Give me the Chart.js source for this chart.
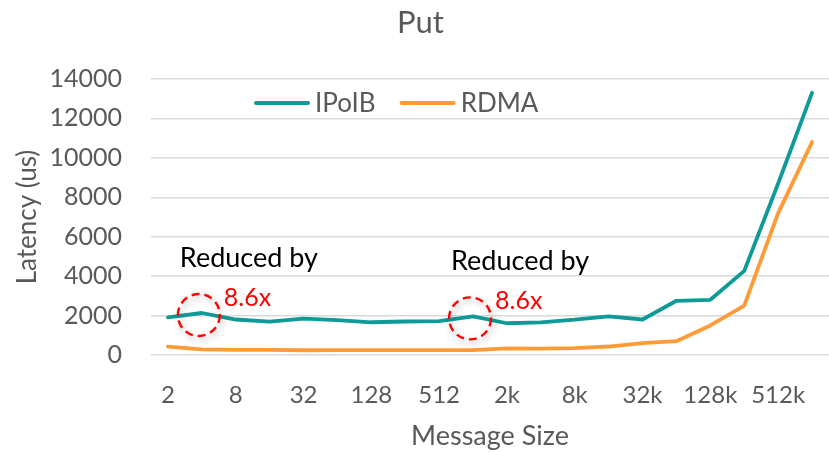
<!DOCTYPE html>
<html>
<head>
<meta charset="utf-8">
<script src="https://cdn.jsdelivr.net/npm/chart.js@4/dist/chart.umd.min.js"></script>
<style>
html,body{margin:0;padding:0;background:#fff;}
#wrap{width:829px;height:452px;position:relative;}
</style>
</head>
<body>
<div id="wrap"><canvas id="c" width="829" height="452"></canvas></div>
<script>
const categories = ['2','4','8','16','32','64','128','256','512','1k','2k','4k','8k','16k','32k','64k','128k','256k','512k','1M'];
const ipoib = [1910,2130,1800,1690,1840,1770,1660,1700,1720,1960,1610,1660,1790,1960,1800,2750,2800,4270,8700,13300];
const rdma  = [430,290,260,260,240,250,250,250,250,250,340,320,350,430,600,700,1500,2500,7200,10800];
const yTicks = [0,2000,4000,6000,8000,10000,12000,14000];
const annotations = [
  {index:1, text:'Reduced by', ratio:'8.6x'},
  {index:9, text:'Reduced by', ratio:'8.6x'}
];

const FONT = 'Lato';
const GREY = '#595959';

const overlay = {
  id:'overlay',
  afterDraw(chart){
    const ctx = chart.ctx;
    const xs = chart.scales.x, ys = chart.scales.y;
    // legend
    ctx.save();
    let lx = 256; const ly = 103;
    ctx.font = '26px ' + FONT;
    ctx.textBaseline = 'middle';
    chart.data.datasets.forEach(ds => {
      ctx.strokeStyle = ds.borderColor;
      ctx.lineWidth = 4;
      ctx.lineCap = 'round';
      ctx.beginPath(); ctx.moveTo(lx, ly); ctx.lineTo(lx + 52, ly); ctx.stroke();
      ctx.fillStyle = GREY;
      ctx.fillText(ds.label, lx + 59, ly + 1);
      lx += 59 + ctx.measureText(ds.label).width + 26;
    });
    ctx.restore();
    // annotations
    annotations.forEach(a => {
      const px = xs.getPixelForValue(a.index);
      const py = ys.getPixelForValue(chart.data.datasets[0].data[a.index]);
      ctx.save();
      ctx.font = '27px ' + FONT;
      ctx.fillStyle = '#000';
      ctx.textBaseline = 'middle';
      ctx.fillText(a.text, px - 22, py - 55);
      ctx.font = '25px ' + FONT;
      ctx.fillStyle = '#FF0000';
      ctx.fillText(a.ratio, px + 22, py - 15);
      ctx.shadowColor = 'rgba(0,0,0,0.35)';
      ctx.shadowBlur = 6;
      ctx.shadowOffsetX = 2; ctx.shadowOffsetY = 3;
      ctx.strokeStyle = '#FF0000';
      ctx.lineWidth = 2.4;
      ctx.setLineDash([8,5]);
      ctx.beginPath(); ctx.arc(px - 3, py + 2, 21, 0, Math.PI*2); ctx.stroke();
      ctx.restore();
    });
  }
};

new Chart(document.getElementById('c'), {
  type:'line',
  data:{
    labels:categories,
    datasets:[
      {label:'IPoIB', data:ipoib, borderColor:'#0E9A96', backgroundColor:'#0E9A96', borderWidth:3.8, pointRadius:0, tension:0, borderCapStyle:'round', borderJoinStyle:'round'},
      {label:'RDMA', data:rdma, borderColor:'#FF9B37', backgroundColor:'#FF9B37', borderWidth:3.8, pointRadius:0, tension:0, borderCapStyle:'round', borderJoinStyle:'round'}
    ]
  },
  options:{
    responsive:false,
    animation:false,
    layout:{padding:{left:12,right:0,top:0,bottom:0}},
    plugins:{
      legend:{display:false},
      tooltip:{enabled:false},
      title:{display:true,text:'Put',color:GREY,font:{family:FONT,size:31,weight:'normal'},padding:{top:4,bottom:37.8}}
    },
    scales:{
      x:{
        offset:true,
        grid:{display:false,drawTicks:true,tickLength:26},
        border:{display:false},
        ticks:{autoSkip:false,maxRotation:0,minRotation:0,padding:0,color:GREY,font:{family:FONT,size:24},
          callback:(v,i)=> i%2===0 ? categories[i] : ''},
        title:{display:true,text:'Message Size',color:GREY,font:{family:FONT,size:27},padding:{top:10,bottom:0}},
        afterFit(s){ s.height = 97; }
      },
      y:{
        min:0,max:14000,
        afterBuildTicks(s){ s.ticks = yTicks.map(v=>({value:v})); },
        grid:{color:'#D9D9D9',lineWidth:1.5,drawTicks:false},
        border:{display:false},
        ticks:{padding:29,color:GREY,font:{family:FONT,size:25},callback:v=>String(v)},
        title:{display:true,text:'Latency (us)',color:GREY,font:{family:FONT,size:26},padding:{top:0,bottom:10}},
        afterFit(s){ s.width = 139; }
      }
    }
  },
  plugins:[overlay]
});
</script>
</body>
</html>
